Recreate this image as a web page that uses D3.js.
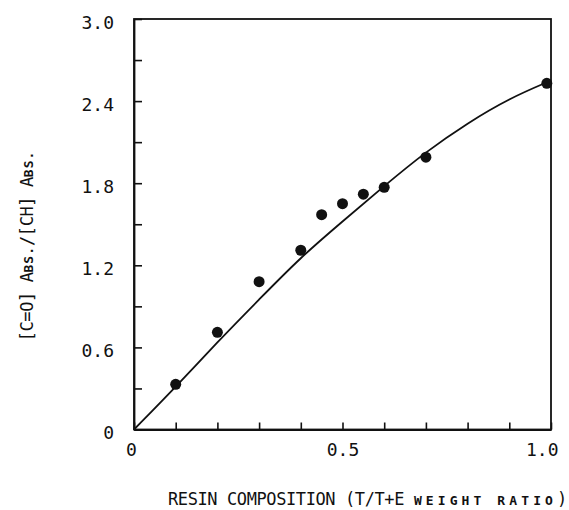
<!DOCTYPE html>
<html>
<head>
<meta charset="utf-8">
<script src="https://cdn.jsdelivr.net/npm/d3@7"></script>
<style>
body { margin: 0; background: #fff; }
text { font-family: "DejaVu Sans Mono", monospace; fill: #111; }
</style>
</head>
<body>
<svg id="chart" width="569" height="510"></svg>
<script>
// measured points (resin composition vs absorbance ratio)
var pointX = [0.1, 0.2, 0.3, 0.4, 0.45, 0.5, 0.55, 0.6, 0.7, 0.99];
var pointY = [0.33, 0.71, 1.08, 1.31, 1.57, 1.65, 1.72, 1.77, 1.99, 2.53];

// fitted curve
var curveX = [0, 0.1, 0.2, 0.3, 0.4, 0.5, 0.6, 0.7, 0.8, 0.9, 1.0];
var curveY = [0, 0.31, 0.64, 0.95, 1.26, 1.52, 1.78, 2.03, 2.24, 2.42, 2.55];

// ticks
var xTicks = [0, 0.1, 0.2, 0.3, 0.4, 0.5, 0.6, 0.7, 0.8, 0.9, 1.0];
var xTickLabels = ['0', '', '', '', '', '0.5', '', '', '', '', '1.0'];
var yTicks = [0, 0.3, 0.6, 0.9, 1.2, 1.5, 1.8, 2.1, 2.4, 2.7, 3.0];
var yTickLabels = ['0', '', '0.6', '', '1.2', '', '1.8', '', '2.4', '', '3.0'];

var svg = d3.select('#chart');
var plot = {l: 134, r: 551, t: 19, b: 429.5};

var x = d3.scaleLinear().domain([0, 1]).range([plot.l, plot.r]);
var y = d3.scaleLinear().domain([0, 3]).range([plot.b, plot.t]);

// frame
svg.append('rect')
    .attr('x', plot.l).attr('y', plot.t)
    .attr('width', plot.r - plot.l).attr('height', plot.b - plot.t)
    .attr('fill', 'none').attr('stroke', '#111').attr('stroke-width', 1.8);

var xAxis = d3.axisBottom(x)
    .tickValues(xTicks)
    .tickFormat(function(d, i) { return xTickLabels[i]; })
    .tickSizeInner(-7).tickSizeOuter(0).tickPadding(13.5);

var yAxis = d3.axisLeft(y)
    .tickValues(yTicks)
    .tickFormat(function(d, i) { return yTickLabels[i]; })
    .tickSizeInner(-8).tickSizeOuter(0).tickPadding(20);

var gx = svg.append('g')
    .attr('transform', 'translate(0,' + plot.b + ')')
    .call(xAxis);
var gy = svg.append('g')
    .attr('transform', 'translate(' + plot.l + ',0)')
    .call(yAxis);

[gx, gy].forEach(function(g) {
    g.attr('font-family', null).attr('font-size', null);
    g.select('.domain').attr('stroke', '#111').attr('stroke-width', 1.8);
    g.selectAll('.tick line').attr('stroke', '#111').attr('stroke-width', 1.6);
    g.selectAll('.tick text').style('font-size', '18px').attr('fill', '#111');
});
gy.selectAll('.tick text').attr('dy', '0.5em');
// last x label sits a bit left of its tick in the original
gx.selectAll('.tick text').filter(function(d) { return d === 1; })
    .attr('text-anchor', 'end').attr('x', 7);
gx.selectAll('.tick text').filter(function(d) { return d === 0; })
    .attr('x', -3);

// curve
var line = d3.line()
    .x(function(d) { return x(d[0]); })
    .y(function(d) { return y(d[1]); })
    .curve(d3.curveBasis);
svg.append('path')
    .datum(d3.zip(curveX, curveY))
    .attr('d', line)
    .attr('fill', 'none')
    .attr('stroke', '#111')
    .attr('stroke-width', 1.8);

// points
svg.selectAll('.pt')
    .data(d3.zip(pointX, pointY))
    .enter().append('circle')
    .attr('class', 'pt')
    .attr('cx', function(d) { return x(d[0]); })
    .attr('cy', function(d) { return y(d[1]); })
    .attr('r', 5.5)
    .attr('fill', '#111');

// axis titles, small caps done with smaller tspans
function bigSpan(t, s) {
    t.append('tspan').style('font-size', '17px').style('letter-spacing', '-0.4px').text(s);
}
function smallSpan(t, s, sp) {
    t.append('tspan').style('font-size', '13px').style('font-weight', 'bold')
        .style('letter-spacing', sp + 'px').text(s);
}

var xt = svg.append('text').attr('x', 168).attr('y', 505);
bigSpan(xt, 'RESIN COMPOSITION (T/T+E ');
smallSpan(xt, 'WEIGHT RATIO', 4.1);
bigSpan(xt, ')');

var yt = svg.append('text')
    .attr('transform', 'translate(33,246) rotate(-90)')
    .attr('text-anchor', 'middle');
bigSpan(yt, '[C=O] A');
smallSpan(yt, 'BS.', 1);
bigSpan(yt, '/[CH] A');
smallSpan(yt, 'BS.', 1);
</script>
</body>
</html>
